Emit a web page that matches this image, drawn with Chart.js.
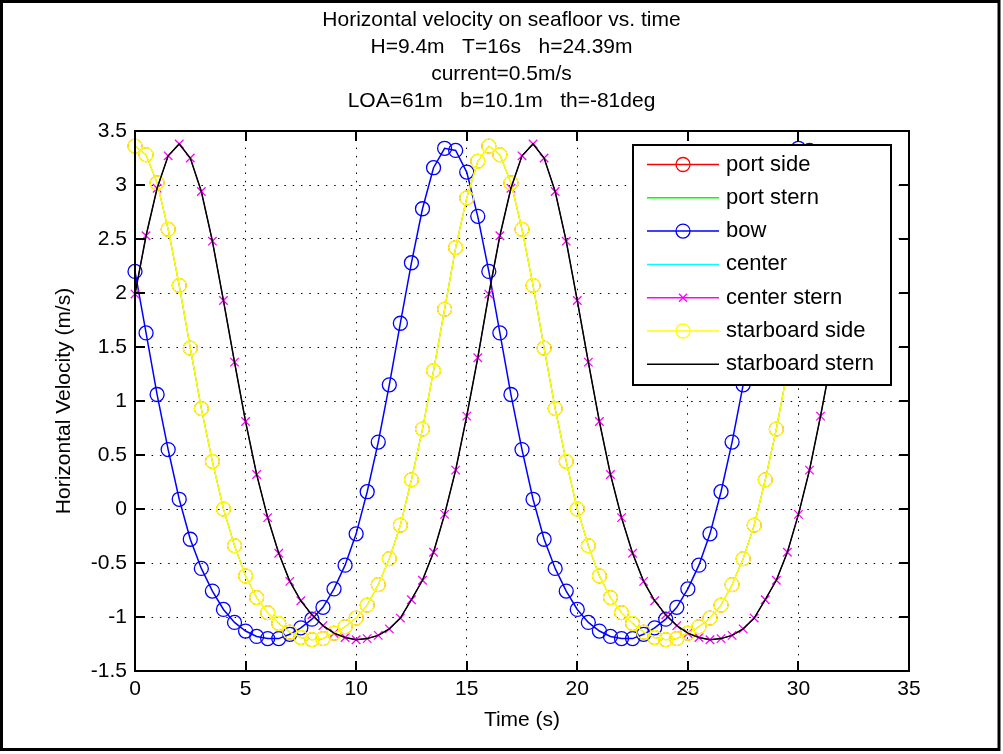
<!DOCTYPE html>
<html>
<head>
<meta charset="utf-8">
<title>Horizontal velocity on seafloor vs. time</title>
<script src="https://cdn.jsdelivr.net/npm/chart.js@4.4.1/dist/chart.umd.min.js"></script>
<style>
  html, body { margin: 0; padding: 0; background: #fff; }
  #grafica { display: block; }
</style>
</head>
<body>
<canvas id="grafica" width="1003" height="754"></canvas>
<script>
// Datos (velocidad horizontal en el fondo, m/s)
const tiempo = [0, 0.5, 1, 1.5, 2, 2.5, 3, 3.5, 4, 4.5, 5, 5.5, 6, 6.5, 7, 7.5,
    8, 8.5, 9, 9.5, 10, 10.5, 11, 11.5, 12, 12.5, 13, 13.5, 14, 14.5, 15, 15.5,
    16, 16.5, 17, 17.5, 18, 18.5, 19, 19.5, 20, 20.5, 21, 21.5, 22, 22.5, 23, 23.5,
    24, 24.5, 25, 25.5, 26, 26.5, 27, 27.5, 28, 28.5, 29, 29.5, 30, 30.5, 31, 31.5];

const proa = [2.20, 1.63, 1.06, 0.55, 0.09, -0.28, -0.55, -0.76, -0.93, -1.05, -1.13, -1.18, -1.20, -1.20, -1.16, -1.10,
    -1.02, -0.91, -0.74, -0.52, -0.23, 0.16, 0.62, 1.15, 1.72, 2.28, 2.78, 3.16, 3.34, 3.32, 3.12, 2.71,
    2.20, 1.63, 1.06, 0.55, 0.09, -0.28, -0.55, -0.76, -0.93, -1.05, -1.13, -1.18, -1.20, -1.20, -1.16, -1.10,
    -1.02, -0.91, -0.74, -0.52, -0.23, 0.16, 0.62, 1.15, 1.72, 2.28, 2.78, 3.16, 3.34, 3.32, 3.12, 2.71];

const costado = [3.36, 3.28, 3.02, 2.59, 2.07, 1.49, 0.93, 0.44, 0.00, -0.34, -0.62, -0.82, -0.96, -1.06, -1.14, -1.19,
    -1.21, -1.20, -1.15, -1.09, -1.01, -0.89, -0.70, -0.46, -0.15, 0.27, 0.74, 1.28, 1.85, 2.42, 2.88, 3.22,
    3.36, 3.28, 3.02, 2.59, 2.07, 1.49, 0.93, 0.44, 0.00, -0.34, -0.62, -0.82, -0.96, -1.06, -1.14, -1.19,
    -1.21, -1.20, -1.15, -1.09, -1.01, -0.89, -0.70, -0.46, -0.15, 0.27, 0.74, 1.28, 1.85, 2.42, 2.88, 3.22];

const popa = [1.99, 2.53, 2.97, 3.27, 3.38, 3.25, 2.94, 2.48, 1.93, 1.36, 0.81, 0.32, -0.08, -0.41, -0.67, -0.85,
    -0.98, -1.08, -1.15, -1.19, -1.21, -1.20, -1.17, -1.11, -1.01, -0.84, -0.66, -0.40, -0.05, 0.36, 0.86, 1.40,
    1.99, 2.53, 2.97, 3.27, 3.38, 3.25, 2.94, 2.48, 1.93, 1.36, 0.81, 0.32, -0.08, -0.41, -0.67, -0.85,
    -0.98, -1.08, -1.15, -1.19, -1.21, -1.20, -1.17, -1.11, -1.01, -0.84, -0.66, -0.40, -0.05, 0.36, 0.86, 1.40];

const series = ["port side", "port stern", "bow", "center", "center stern", "starboard side", "starboard stern"];
const colores = ["#ff0000", "#00ff00", "#0000ff", "#00ffff", "#ff00ff", "#ffff00", "#000000"];
const marcadores = ["circle", "", "circle", "", "crossRot", "circle", ""];

const xTicks = [0, 5, 10, 15, 20, 25, 30, 35];
const xTickLabels = ["0", "5", "10", "15", "20", "25", "30", "35"];
const yTicks = [-1.5, -1, -0.5, 0, 0.5, 1, 1.5, 2, 2.5, 3, 3.5];
const yTickLabels = ["-1.5", "-1", "-0.5", "0", "0.5", "1", "1.5", "2", "2.5", "3", "3.5"];

const titulo = ["Horizontal velocity on seafloor vs. time", "H=9.4m   T=16s   h=24.39m",
    "current=0.5m/s", "LOA=61m   b=10.1m   th=-81deg"];

const FUENTE = "'Liberation Sans', Arial, Helvetica, sans-serif";

function puntos(valores) {
    return valores.map((v, i) => ({ x: tiempo[i], y: v }));
}

// marco de los ejes con marcas hacia dentro (estilo MATLAB)
const marcoEjes = {
    id: "marcoEjes",
    afterDatasetsDraw(chart) {
        const { ctx, chartArea: a, scales: { x, y } } = chart;
        ctx.save();
        ctx.strokeStyle = "#000";
        ctx.lineWidth = 2;
        ctx.strokeRect(a.left, a.top, a.right - a.left, a.bottom - a.top);
        ctx.beginPath();
        xTicks.forEach(v => {
            const px = Math.round(x.getPixelForValue(v));
            ctx.moveTo(px, a.bottom); ctx.lineTo(px, a.bottom - 10);
            ctx.moveTo(px, a.top); ctx.lineTo(px, a.top + 10);
        });
        yTicks.forEach(v => {
            const py = Math.round(y.getPixelForValue(v));
            ctx.moveTo(a.left, py); ctx.lineTo(a.left + 10, py);
            ctx.moveTo(a.right, py); ctx.lineTo(a.right - 10, py);
        });
        ctx.stroke();
        ctx.restore();
    }
};

// leyenda dentro del área del gráfico
const leyenda = {
    id: "leyenda",
    afterDraw(chart) {
        const { ctx, chartArea: a } = chart;
        const w = 258, h = 240;
        const left = a.right - 18 - w, top = a.top + 14;
        ctx.save();
        ctx.fillStyle = "#fff";
        ctx.fillRect(left, top, w, h);
        ctx.strokeStyle = "#000";
        ctx.lineWidth = 2;
        ctx.strokeRect(left, top, w, h);
        chart.data.datasets.forEach((ds, i) => {
            const yy = top + 19.5 + i * 33.3;
            ctx.strokeStyle = ds.borderColor;
            ctx.lineWidth = 1.5;
            ctx.beginPath();
            ctx.moveTo(left + 14, yy); ctx.lineTo(left + 86, yy);
            ctx.stroke();
            const mx = left + 50;
            ctx.lineWidth = 1.3;
            if (marcadores[i] === "circle") {
                ctx.beginPath();
                ctx.arc(mx, yy, 7, 0, Math.PI * 2);
                ctx.stroke();
            } else if (marcadores[i] === "crossRot") {
                ctx.beginPath();
                ctx.moveTo(mx - 4, yy - 4); ctx.lineTo(mx + 4, yy + 4);
                ctx.moveTo(mx + 4, yy - 4); ctx.lineTo(mx - 4, yy + 4);
                ctx.stroke();
            }
            ctx.fillStyle = "#000";
            ctx.font = "22px " + FUENTE;
            ctx.textBaseline = "middle";
            ctx.textAlign = "left";
            ctx.fillText(ds.label, left + 93, yy);
        });
        // marco de la figura
        ctx.strokeStyle = "#000";
        ctx.lineWidth = 3;
        ctx.strokeRect(1.5, 1.5, 997.5, 748);
        ctx.restore();
    }
};

document.addEventListener("DOMContentLoaded", function () {
    const ctx = document.getElementById("grafica").getContext("2d");

    // valores de cada punto del barco (los ocultos quedan debajo de otros)
    const valores = [costado, popa, proa, costado, popa, costado, popa];
    const ocultos = [true, true, false, true, false, false, false];

    const datasets = series.map((nombre, i) => ({
        label: nombre,
        data: puntos(valores[i]),
        borderColor: colores[i],
        backgroundColor: "rgba(0,0,0,0)",
        borderWidth: ocultos[i] || i === 4 ? 1 : 1.5,
        pointStyle: marcadores[i] || "circle",
        pointRadius: marcadores[i] === "circle" ? 7 : (marcadores[i] === "crossRot" ? 6 : 0),
        pointBorderWidth: ocultos[i] ? 1 : 1.3,
        pointBorderColor: colores[i],
        pointBackgroundColor: "rgba(0,0,0,0)",
        pointHoverRadius: 0,
        tension: 0,
        fill: false,
        clip: false,
        order: series.length - 1 - i
    }));

    new Chart(ctx, {
        type: "line",
        data: { datasets: datasets },
        options: {
            responsive: false,
            animation: false,
            devicePixelRatio: 1,
            events: [],
            layout: { padding: 0 },
            plugins: {
                legend: { display: false },
                tooltip: { enabled: false },
                title: {
                    display: true,
                    text: titulo,
                    color: "#000",
                    font: { family: FUENTE, size: 21, weight: "normal", lineHeight: 27 / 21 },
                    padding: { top: 7, bottom: 16 }
                }
            },
            scales: {
                x: {
                    type: "linear",
                    min: 0,
                    max: 35,
                    afterBuildTicks: s => { s.ticks = xTicks.map(v => ({ value: v })); },
                    afterFit: s => { s.height = 83; },
                    ticks: {
                        color: "#000",
                        padding: 6,
                        maxRotation: 0,
                        font: { family: FUENTE, size: 21 },
                        callback: (v, i) => xTickLabels[i]
                    },
                    grid: { color: "#000", lineWidth: 1, drawTicks: false },
                    border: { display: false, dash: [1.5, 6.8] },
                    title: {
                        display: true,
                        text: "Time (s)",
                        color: "#000",
                        font: { family: FUENTE, size: 21 },
                        padding: { top: 0, bottom: 21 }
                    }
                },
                y: {
                    type: "linear",
                    min: -1.5,
                    max: 3.5,
                    afterBuildTicks: s => { s.ticks = yTicks.map(v => ({ value: v })); },
                    afterFit: s => { s.width = 135; },
                    ticks: {
                        color: "#000",
                        padding: 8,
                        font: { family: FUENTE, size: 21 },
                        callback: (v, i) => yTickLabels[i]
                    },
                    grid: { color: "#000", lineWidth: 1, drawTicks: false },
                    border: { display: false, dash: [1.5, 6.8] },
                    title: {
                        display: true,
                        text: "Horizontal Velocity (m/s)",
                        color: "#000",
                        font: { family: FUENTE, size: 21 },
                        padding: { top: 52, bottom: 0 }
                    }
                },
                // eje vacío a la derecha para dejar el margen de la figura
                margen: {
                    type: "linear",
                    position: "right",
                    afterFit: s => { s.width = 94; },
                    ticks: { display: false },
                    grid: { display: false },
                    border: { display: false }
                }
            }
        },
        plugins: [marcoEjes, leyenda]
    });
});
</script>
</body>
</html>
